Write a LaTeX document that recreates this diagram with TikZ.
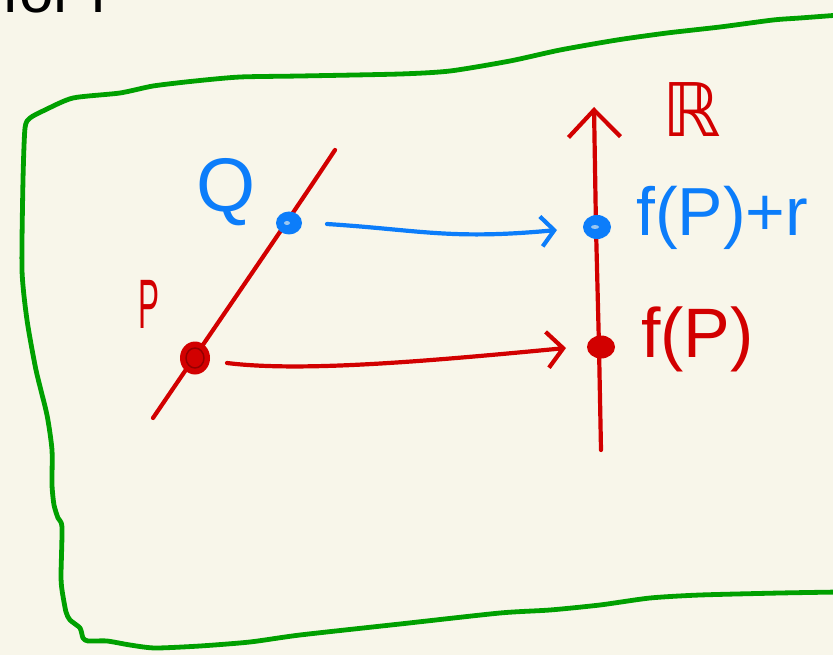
\documentclass[tikz,border=0pt]{standalone}
\usepackage{fontspec}
\setmainfont{Liberation Sans}
\newfontfamily\dejavu{DejaVu Sans}
\usetikzlibrary{arrows.meta,shapes.geometric}
\definecolor{bg}{RGB}{248,246,234}
\definecolor{ink}{RGB}{0,160,0}
\definecolor{myred}{RGB}{210,0,0}
\definecolor{myblue}{RGB}{12,125,250}
\tikzset{
  border/.style={draw=ink, line width=4.8pt},
  redline/.style={draw=myred, line width=4.2pt},
  blueline/.style={draw=myblue, line width=4.2pt},
  dotnode/.style={ellipse, inner sep=0pt, outer sep=0pt, minimum width=#1},
  lab/.style={inner sep=0pt},
}
\begin{document}
\begin{tikzpicture}[x=1pt,y=-1pt,line cap=round,line join=round]
\useasboundingbox (0,0) rectangle (833,655);
\clip (0,0) rectangle (833,655);
\fill[bg] (0,0) rectangle (833,655);

% cut-off heading
\node[lab, anchor=base west, font=\fontsize{62}{66}\selectfont] (head) at (2,13) {for r};

% green frame
\draw[border] plot[smooth, tension=0.4] coordinates {
 (840,15) (800,18) (773,20) (720,27) (667,33) (617,40) (560,50) (510,61)
 (450,71) (400,74) (300,76) (240,77) (195,81) (153,86) (120,93) (73,98)
 (45,110) (30,118) (25,128) (23,180) (22,270) (27,320) (36,370) (47,415)
 (52,450) (52,485) (54,505) (58,518) (62,527) (61,575) (62,590) (66,612)
 (70,620) (80,628) (83,638) (88,641) (107,641) (130,645) (155,648) (200,646)
 (250,642) (300,635) (400,624) (500,613) (550,610) (600,605) (650,598)
 (700,595) (780,593) (840,592)};

% red line through P and Q
\coordinate (lb) at (153,418);
\coordinate (lt) at (335,150);
\draw[redline] (lb) .. controls (230,305) and (290,218) .. (lt);

% real axis
\coordinate (axb) at (601,450);
\coordinate (axt) at (594,107);
\draw[redline, -{Straight Barb[length=27pt,width=52pt,line width=4.2pt]}]
  (axb) -- (599,347) -- (596,228) -- (axt);

% dots
\node[dotnode=30pt, minimum height=33pt, fill=myred] (P) at (195,358) {};
\draw[draw=myred!70!black, line width=1.5pt] (195,358) ellipse (9pt and 10pt);
\node[dotnode=26pt, minimum height=23pt, fill=myblue] (Q) at (289,223) {};
\fill[bg!60!myblue] (287,223) ellipse (3pt and 2pt);
\node[dotnode=28pt, minimum height=24pt, fill=myblue] (fQ) at (597,227) {};
\fill[bg!60!myblue] (595,227) ellipse (4pt and 2pt);
\node[dotnode=28pt, minimum height=23pt, fill=myred] (fP) at (601,347) {};

% maps
\coordinate (qs) at (327,224);
\coordinate (qe) at (557,230);
\draw[blueline, -{Straight Barb[length=13pt,width=30pt,line width=4.2pt]}]
  (qs) .. controls (420,230) and (450,240) .. (qe);
\coordinate (ps) at (227,363);
\coordinate (pe) at (566,348);
\draw[redline, -{Straight Barb[length=16pt,width=36pt,line width=4.2pt]}]
  (ps) .. controls (300,372) and (420,362) .. (pe);

% labels
\node[lab, text=myblue, font=\fontsize{76}{80}\selectfont] (Ql) at (226,192) {Q};
\node[lab, text=myred, font=\fontsize{70}{74}\selectfont, xscale=0.45] (Pl) at (149,304) {P};
\node[lab, text=myred, font=\dejavu\fontsize{74}{78}\selectfont] (Rl) at (692,110) {ℝ};
\node[lab, anchor=base west, text=myblue, font=\fontsize{68}{72}\selectfont] (fQl) at (636,236) {f(P)+r};
\node[lab, anchor=base west, text=myred, font=\fontsize{70}{74}\selectfont] (fPl) at (641,357) {f(P)};
\end{tikzpicture}
\end{document}
